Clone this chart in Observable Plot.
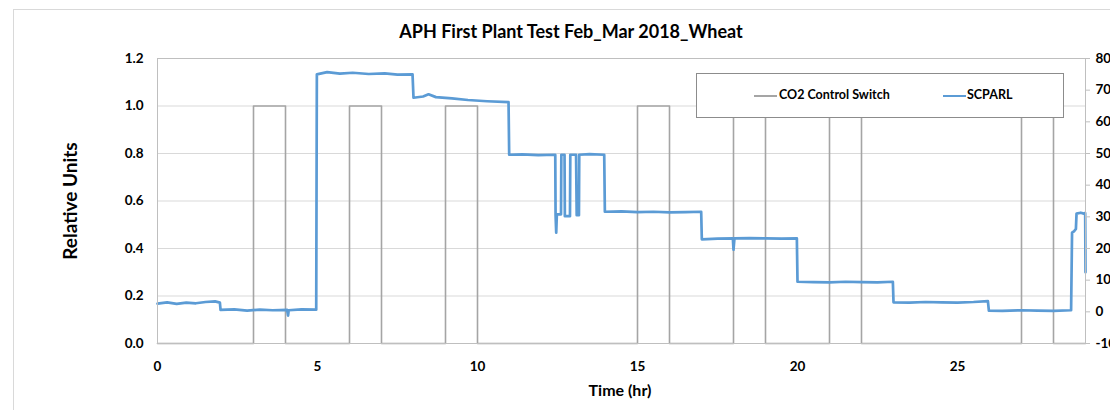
<!DOCTYPE html>
<html>
<head>
<meta charset="utf-8">
<script src="https://cdn.jsdelivr.net/npm/d3@7"></script>
<script src="https://cdn.jsdelivr.net/npm/@observablehq/plot@0.6"></script>
<style>
  body { margin: 0; background: #fff; font-family: Lato, "Noto Sans", sans-serif; }
  #wrap { position: relative; width: 1110px; height: 410px; overflow: hidden; background: #fff; }
  #border { position: absolute; left: 13px; top: 9px; width: 1200px; height: 500px; border: 1px solid #d9d9d9; }
  #title { position: absolute; left: 0; top: 20px; width: 1142px; text-align: center; font-weight: bold; font-size: 18px; color: #000; }
  #chart { position: absolute; left: 0; top: 48px; }
  #xlabel { position: absolute; left: 0; top: 380px; width: 1240px; text-align: center; font-weight: bold; font-size: 16px; color: #000; }
  #legend { position: absolute; left: 696px; top: 73px; width: 366px; height: 43px; border: 1px solid #8c8c8c; background: #fff; font-weight: bold; font-size: 12.5px; color: #000; }
  .sw { position: absolute; top: 21px; height: 0; }
  .lt { position: absolute; top: 13px; white-space: nowrap; }
</style>
</head>
<body>
<div id="wrap">
  <div id="border"></div>
  <div id="title">APH First Plant Test Feb_Mar 2018_Wheat</div>
  <div id="chart"></div>
  <div id="xlabel">Time (hr)</div>
  <div id="legend"></div>
</div>
<script>
// ---- data ----
const seriesNames = ["CO2 Control Switch", "SCPARL"];
const seriesColors = ["#a5a5a5", "#5b9bd5"];

// CO2 control switch (left axis, relative units), step-after
const switchTime  = [0, 3, 4, 6, 7, 9, 10, 15, 16, 18, 19, 21, 22, 27, 28, 29];
const switchValue = [0, 1, 0, 1, 0, 1, 0,  1,  0,  1,  0,  1,  0,  1,  0,  0];

// SCPARL (right axis units)
const parlTime = [
  0, 0.3, 0.6, 0.9, 1.2, 1.5, 1.8, 1.95,
  1.97, 2.4, 2.8, 3.2, 3.6, 4.05, 4.08, 4.1, 4.5, 4.96,
  4.98, 5.3, 5.7, 6.1, 6.6, 7.1, 7.5, 7.97,
  8.0, 8.3, 8.47, 8.7, 9.2, 9.7, 10.3, 10.97,
  10.99, 11.4, 11.9, 12.43, 12.44, 12.46, 12.48, 12.61, 12.62, 12.72, 12.73, 12.89, 12.9, 13.08, 13.1, 13.17, 13.18, 13.5, 13.96,
  13.98, 14.5, 15, 15.5, 16, 16.5, 16.99,
  17.01, 17.5, 17.98, 18.0, 18.03, 18.5, 19, 19.5, 19.98,
  20.0, 20.5, 21, 21.5, 22, 22.5, 22.98,
  23.0, 23.5, 24, 24.5, 25, 25.5, 25.95,
  25.98, 26.4, 27, 27.5, 28, 28.55,
  28.58, 28.65, 28.7, 28.72, 28.85, 28.95, 28.99, 29.0
];
const parlValue = [
  26, 30, 25, 29, 27, 31, 33, 29,
  6, 8, 4, 7, 5, 6, -12, 5, 8, 7,
  750, 757, 752, 755, 751, 753, 749, 750,
  676, 680, 687, 678, 674, 669, 665, 662,
  496, 497, 495, 496, 305, 250, 308, 308, 496, 496, 302, 302, 496, 496, 305, 305, 496, 498, 496,
  316, 317, 315, 316, 314, 315, 316,
  229, 231, 232, 196, 232, 233, 232, 231, 232,
  95, 94, 93, 95, 94, 93, 95,
  30, 29, 31, 30, 29, 31, 34,
  4, 3, 5, 4, 3, 5,
  250, 255, 262, 310, 313, 310, 312, 125
];

const xTicks = [0, 5, 10, 15, 20, 25];
const leftTicks = [0, 0.2, 0.4, 0.6, 0.8, 1.0, 1.2];
const rightTicks = [-100, 0, 100, 200, 300, 400, 500, 600, 700, 800];

// ---- build ----
const rightMin = -100, rightMax = 800, leftMax = 1.2;
const toLeft = v => (v - rightMin) / (rightMax - rightMin) * leftMax;
const toRight = y => y / leftMax * (rightMax - rightMin) + rightMin;

const switchData = switchTime.map((t, i) => ({t, v: switchValue[i]}));
const parlData = parlTime.map((t, i) => ({t, v: toLeft(parlValue[i])}));

const chart = Plot.plot({
  width: 1110,
  height: 362,
  marginLeft: 157,
  marginRight: 25,
  marginTop: 10,
  marginBottom: 67,
  style: {fontFamily: "Lato, 'Noto Sans', sans-serif", fontSize: "13.5px", fontWeight: "bold", color: "#000", background: "transparent", overflow: "visible"},
  x: {domain: [0, 29]},
  y: {domain: [0, 1.2]},
  marks: [
    Plot.gridY(leftTicks, {stroke: "#d9d9d9", strokeOpacity: 1}),
    Plot.line(switchData, {x: "t", y: "v", curve: "step-after", stroke: seriesColors[0], strokeWidth: 1.6}),
    Plot.line(parlData, {x: "t", y: "v", stroke: seriesColors[1], strokeWidth: 2.7}),
    Plot.frame({stroke: "#bfbfbf"}),
    Plot.axisY(leftTicks, {anchor: "left", tickSize: 0, tickPadding: 14, tickFormat: d3.format(".1f"), label: null}),
    Plot.axisY(rightTicks.map(toLeft), {anchor: "right", tickSize: 4, tickPadding: 6, stroke: "#bfbfbf", tickFormat: d => String(Math.round(toRight(d))), label: null}),
    Plot.axisX(xTicks, {tickSize: 0, tickPadding: 18, tickFormat: d3.format("d"), label: null}),
    Plot.text(["Relative Units"], {frameAnchor: "left", dx: -87, rotate: -90, textAnchor: "middle", fontSize: 19, fontWeight: "bold", fill: "#000"})
  ]
});
document.getElementById("chart").appendChild(chart);

// legend
const legend = document.getElementById("legend");
const legendPos = [{line: 57, text: 82}, {line: 246, text: 270}];
seriesNames.forEach((name, i) => {
  const ln = document.createElement("div");
  ln.className = "sw";
  ln.style.left = legendPos[i].line + "px";
  ln.style.width = "23px";
  ln.style.borderTop = "2px solid " + seriesColors[i];
  legend.appendChild(ln);
  const tx = document.createElement("div");
  tx.className = "lt";
  tx.style.left = legendPos[i].text + "px";
  tx.textContent = name;
  legend.appendChild(tx);
});
</script>
</body>
</html>
